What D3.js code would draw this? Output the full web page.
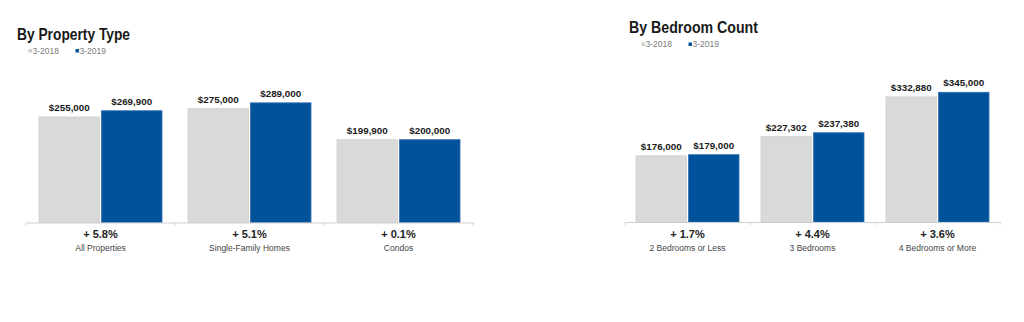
<!DOCTYPE html>
<html>
<head>
<meta charset="utf-8">
<script src="https://cdn.jsdelivr.net/npm/d3@7"></script>
<style>
  html, body { margin: 0; padding: 0; background: #ffffff; }
  svg { display: block; }
</style>
</head>
<body>
<svg id="chart" width="1024" height="322"></svg>
<script>
// ---- Data ----
const seriesLabels = ["3-2018", "3-2019"];

const propTitle = "By Property Type";
const propCategories = ["All Properties", "Single-Family Homes", "Condos"];
const prop2018 = [255000, 275000, 199900];
const prop2019 = [269900, 289000, 200000];
const propChange = ["+ 5.8%", "+ 5.1%", "+ 0.1%"];

const bedTitle = "By Bedroom Count";
const bedCategories = ["2 Bedrooms or Less", "3 Bedrooms", "4 Bedrooms or More"];
const bed2018 = [176000, 227302, 332880];
const bed2019 = [179000, 237380, 345000];
const bedChange = ["+ 1.7%", "+ 4.4%", "+ 3.6%"];

// ---- Styles ----
const colors = ["#d9d9d9", "#00539b"];
const strokes = ["#d0d0d0", "#2f6fb0"];
const fmt = d3.format("$,");

const svg = d3.select("#chart");

function drawPanel(cfg) {
  const g = svg.append("g");
  const rows = cfg.categories.map((c, i) => ({
    cat: c, change: cfg.change[i],
    vals: [cfg.s1[i], cfg.s2[i]]
  }));

  const x0 = d3.scaleBand().domain(cfg.categories).range(cfg.xRange).padding(0);
  const x1 = d3.scaleBand().domain(seriesLabels)
    .range([cfg.innerPad, x0.bandwidth() - cfg.innerPad]).paddingInner(cfg.gap);
  const y = d3.scaleLinear().domain(cfg.yDomain).range([cfg.baseY, cfg.topY]);

  // title
  g.append("text")
    .attr("x", cfg.titleX).attr("y", cfg.titleY)
    .attr("font-family", "'Liberation Sans', Arial, sans-serif")
    .attr("font-weight", "bold").attr("font-size", cfg.titleSize)
    .attr("textLength", cfg.titleLen).attr("lengthAdjust", "spacingAndGlyphs")
    .attr("fill", "#1a1a1a")
    .text(cfg.title);

  // legend
  const lg = g.append("g");
  seriesLabels.forEach((s, i) => {
    const lx = cfg.legendX + i * 47;
    lg.append("rect").attr("x", lx).attr("y", cfg.legendY - 4.5)
      .attr("width", 3.5).attr("height", 3.5).attr("fill", i === 0 ? "#cfcfcf" : colors[1]);
    lg.append("text").attr("x", lx + 4).attr("y", cfg.legendY)
      .attr("font-family", "'Liberation Sans', Arial, sans-serif")
      .attr("font-size", 8.5).attr("fill", "#7a7a7a").text(s);
  });

  // bars
  const groups = g.selectAll(".grp").data(rows).enter().append("g")
    .attr("transform", d => `translate(${x0(d.cat)},0)`);

  groups.selectAll("rect").data(d => d.vals.map((v, i) => ({ s: seriesLabels[i], v, i })))
    .enter().append("rect")
    .attr("x", d => x1(d.s))
    .attr("width", x1.bandwidth())
    .attr("y", d => y(d.v))
    .attr("height", d => y(0) - y(d.v))
    .attr("fill", d => colors[d.i])
    .attr("stroke", d => strokes[d.i])
    .attr("stroke-width", 0.8);

  groups.selectAll(".val").data(d => d.vals.map((v, i) => ({ s: seriesLabels[i], v, i })))
    .enter().append("text")
    .attr("x", d => x1(d.s) + x1.bandwidth() / 2)
    .attr("y", d => y(d.v) - 6)
    .attr("text-anchor", "middle")
    .attr("font-family", "'Liberation Sans', Arial, sans-serif")
    .attr("font-weight", "bold").attr("font-size", 9.8)
    .attr("fill", "#1a1a1a")
    .text(d => fmt(d.v));

  // axis
  const axis = g.append("g").attr("transform", `translate(0,${cfg.baseY})`);
  axis.call(d3.axisBottom(x0).tickSize(0).tickFormat(""));
  axis.select(".domain").attr("stroke", "#cfcfcf").attr("stroke-width", 1);
  const bounds = cfg.categories.map(c => x0(c)).concat([x0.range()[1]]);
  axis.selectAll(".bnd").data(bounds).enter().append("line")
    .attr("x1", d => d).attr("x2", d => d).attr("y1", 0).attr("y2", 3)
    .attr("stroke", "#cfcfcf");

  groups.append("text")
    .attr("x", x0.bandwidth() / 2).attr("y", cfg.baseY + 15.5)
    .attr("text-anchor", "middle")
    .attr("font-family", "'Liberation Sans', Arial, sans-serif")
    .attr("font-weight", "bold").attr("font-size", 11)
    .attr("fill", "#222").text(d => d.change);

  groups.append("text")
    .attr("x", x0.bandwidth() / 2).attr("y", cfg.baseY + 28.5)
    .attr("text-anchor", "middle")
    .attr("font-family", "'Liberation Sans', Arial, sans-serif")
    .attr("font-size", 8.5)
    .attr("fill", "#444").text(d => d.cat);
}

drawPanel({
  title: propTitle, titleX: 17, titleY: 39.5, titleSize: 16.5, titleLen: 113,
  legendX: 28.5, legendY: 53.5,
  categories: propCategories, s1: prop2018, s2: prop2019, change: propChange,
  xRange: [26, 473], innerPad: 13, gap: 0.03,
  yDomain: [0, 300000], baseY: 222.5, topY: 98.3
});

drawPanel({
  title: bedTitle, titleX: 629, titleY: 32.5, titleSize: 16.5, titleLen: 129,
  legendX: 641.5, legendY: 47,
  categories: bedCategories, s1: bed2018, s2: bed2019, change: bedChange,
  xRange: [625, 1000], innerPad: 11, gap: 0.04,
  yDomain: [0, 350000], baseY: 222, topY: 90.4
});
</script>
</body>
</html>
